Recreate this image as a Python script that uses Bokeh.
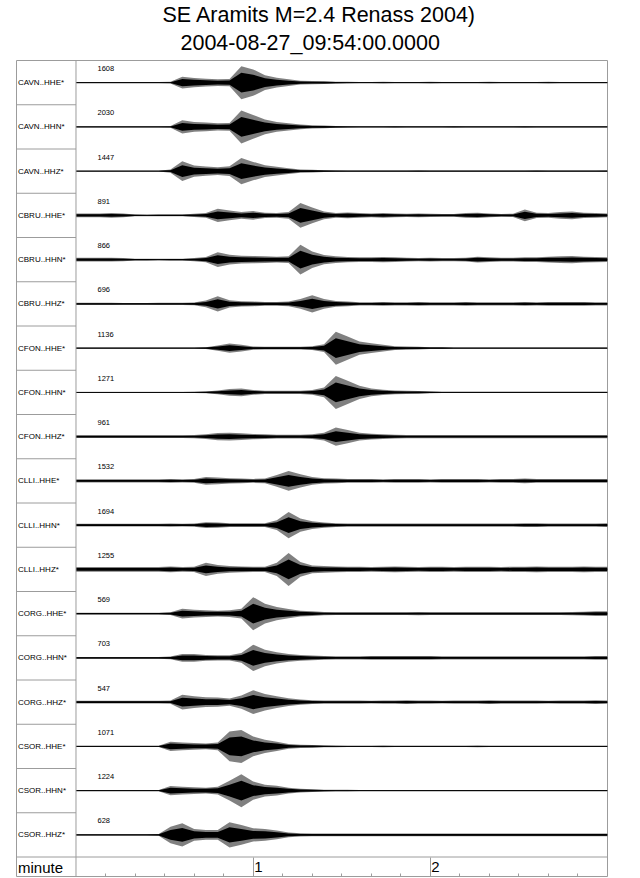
"""
Record section of the SE Aramits M=2.4 event (Renass, 2004-08-27 09:54)
"""
import numpy as np
from bokeh.plotting import figure
from bokeh.models import Range1d, FixedTicker, Span, Title
from bokeh.core.properties import value
from bokeh.embed import file_html
from bokeh.resources import INLINE

TITLE = "SE Aramits M=2.4 Renass 2004)"
SUBTITLE = "2004-08-27_09:54:00.0000"
AXIS_NAME = "minute"

STATIONS = ["CAVN..HHE*", "CAVN..HHN*", "CAVN..HHZ*",
            "CBRU..HHE*", "CBRU..HHN*", "CBRU..HHZ*",
            "CFON..HHE*", "CFON..HHN*", "CFON..HHZ*",
            "CLLI..HHE*", "CLLI..HHN*", "CLLI..HHZ*",
            "CORG..HHE*", "CORG..HHN*", "CORG..HHZ*",
            "CSOR..HHE*", "CSOR..HHN*", "CSOR..HHZ*"]
PEAKS = [1608, 2030, 1447, 891, 866, 696, 1136, 1271, 961,
         1532, 1694, 1255, 569, 703, 547, 1071, 1224, 628]

# envelope sample times (s after 09:54:00), one every 4 s
T = list(range(0, 181, 4))

ENV_CAVN_HHE = [4, 4, 4, 4, 4, 4, 4, 4, 5, 36, 28, 24, 20, 22, 100, 80,
                44, 30, 20, 12, 10, 8, 6, 5, 4, 4, 5, 4, 4, 4, 5, 4,
                4, 4, 4, 5, 4, 4, 4, 4, 5, 4, 4, 4, 4, 4]
ENV_CAVN_HHN = [4, 4, 4, 4, 4, 4, 4, 4, 5, 40, 30, 26, 22, 24, 100, 72,
                44, 30, 22, 14, 10, 8, 6, 5, 4, 4, 4, 5, 4, 4, 4, 4,
                5, 4, 4, 4, 4, 4, 5, 4, 4, 4, 4, 4, 4, 4]
ENV_CAVN_HHZ = [3, 3, 3, 3, 3, 3, 3, 3, 10, 60, 34, 28, 24, 30, 80, 56,
                36, 26, 18, 10, 8, 6, 5, 4, 4, 4, 4, 4, 4, 5, 4, 4,
                4, 4, 4, 4, 4, 4, 4, 5, 4, 4, 4, 4, 4, 5]
ENV_CBRU_HHE = [12, 12, 12, 14, 12, 6, 5, 6, 6, 6, 10, 14, 40, 30, 20, 26,
                16, 14, 20, 75, 48, 24, 14, 18, 14, 12, 14, 12, 10, 12, 10, 8,
                8, 14, 16, 12, 8, 10, 36, 16, 14, 20, 24, 16, 14, 12]
ENV_CBRU_HHN = [12, 12, 12, 12, 10, 6, 6, 5, 6, 6, 10, 16, 44, 30, 24, 22,
                20, 18, 20, 90, 50, 28, 20, 16, 14, 14, 16, 14, 12, 10, 12, 10,
                10, 12, 18, 14, 12, 12, 14, 14, 18, 20, 22, 18, 16, 14]
ENV_CBRU_HHZ = [7, 7, 7, 7, 6, 6, 6, 7, 7, 7, 8, 20, 46, 22, 16, 14,
                12, 12, 14, 30, 52, 30, 18, 14, 10, 10, 12, 10, 10, 12, 10, 10,
                10, 12, 10, 10, 10, 10, 12, 10, 12, 12, 12, 12, 10, 10]
ENV_CFON_HHE = [4, 4, 4, 4, 4, 4, 4, 4, 4, 4, 4, 6, 16, 28, 20, 10,
                8, 8, 8, 8, 12, 24, 100, 70, 40, 30, 20, 12, 10, 8, 6, 6,
                4, 4, 4, 4, 4, 4, 4, 4, 4, 4, 4, 4, 4, 4]
ENV_CFON_HHN = [3, 3, 3, 3, 3, 3, 3, 3, 3, 3, 4, 6, 12, 20, 24, 14,
                10, 10, 10, 10, 14, 30, 100, 70, 40, 24, 16, 12, 10, 8, 6, 4,
                4, 4, 4, 4, 4, 4, 4, 4, 4, 4, 4, 4, 4, 4]
ENV_CFON_HHZ = [8, 8, 8, 8, 8, 8, 8, 8, 8, 8, 10, 14, 22, 24, 20, 16,
                14, 12, 12, 12, 14, 24, 55, 40, 24, 18, 14, 12, 10, 10, 10, 10,
                10, 10, 10, 10, 10, 10, 10, 10, 10, 10, 10, 10, 10, 10]
ENV_CLLI_HHE = [10, 10, 10, 10, 10, 10, 10, 10, 12, 10, 12, 24, 20, 16, 14, 12,
                14, 36, 60, 40, 24, 16, 14, 12, 12, 12, 10, 12, 12, 12, 10, 12,
                12, 12, 12, 10, 12, 12, 14, 12, 12, 12, 12, 12, 12, 12]
ENV_CLLI_HHN = [8, 8, 8, 8, 8, 8, 8, 8, 10, 8, 10, 18, 16, 12, 12, 12,
                12, 30, 80, 40, 24, 16, 12, 10, 10, 10, 10, 10, 10, 10, 10, 10,
                10, 10, 10, 10, 10, 10, 12, 12, 10, 10, 10, 10, 10, 12]
ENV_CLLI_HHZ = [14, 14, 14, 14, 14, 14, 14, 14, 18, 14, 16, 40, 26, 20, 18, 16,
                16, 40, 100, 45, 24, 20, 18, 16, 16, 14, 16, 18, 16, 14, 16, 16,
                14, 16, 16, 16, 14, 16, 16, 18, 16, 16, 16, 18, 16, 16]
ENV_CORG_HHE = [6, 6, 6, 6, 6, 6, 6, 6, 8, 30, 24, 20, 18, 20, 30, 100,
                60, 40, 28, 18, 14, 10, 8, 8, 8, 8, 8, 8, 8, 10, 8, 8,
                8, 8, 8, 8, 8, 8, 8, 8, 8, 8, 10, 12, 14, 14]
ENV_CORG_HHN = [6, 6, 6, 6, 6, 6, 6, 6, 8, 24, 24, 18, 16, 16, 30, 80,
                50, 34, 24, 18, 14, 12, 10, 10, 10, 12, 12, 12, 12, 12, 12, 10,
                10, 10, 10, 10, 10, 10, 10, 10, 10, 10, 10, 10, 12, 12]
ENV_CORG_HHZ = [8, 8, 8, 8, 8, 8, 8, 8, 10, 44, 36, 30, 28, 22, 40, 72,
                50, 36, 24, 16, 12, 10, 10, 10, 10, 8, 10, 10, 12, 10, 10, 8,
                10, 10, 10, 12, 10, 10, 10, 10, 8, 10, 10, 10, 12, 10]
ENV_CSOR_HHE = [4, 4, 4, 4, 4, 4, 4, 4, 28, 24, 20, 18, 24, 90, 100, 60,
                40, 28, 14, 10, 8, 6, 5, 4, 4, 4, 5, 4, 4, 4, 4, 4,
                4, 4, 5, 4, 4, 4, 4, 4, 4, 4, 4, 4, 4, 4]
ENV_CSOR_HHN = [4, 4, 4, 4, 4, 4, 4, 4, 28, 24, 20, 18, 24, 60, 100, 55,
                36, 30, 18, 12, 8, 6, 5, 5, 4, 4, 4, 4, 4, 4, 4, 4,
                4, 4, 4, 4, 4, 4, 4, 4, 4, 4, 4, 4, 4, 4]
ENV_CSOR_HHZ = [5, 5, 5, 5, 5, 5, 5, 6, 50, 70, 36, 30, 30, 76, 60, 40,
                36, 26, 14, 10, 8, 8, 8, 8, 8, 8, 8, 9, 8, 8, 8, 8,
                8, 8, 8, 8, 8, 9, 8, 8, 8, 8, 8, 8, 8, 9]

ENVELOPES = [ENV_CAVN_HHE, ENV_CAVN_HHN, ENV_CAVN_HHZ,
             ENV_CBRU_HHE, ENV_CBRU_HHN, ENV_CBRU_HHZ,
             ENV_CFON_HHE, ENV_CFON_HHN, ENV_CFON_HHZ,
             ENV_CLLI_HHE, ENV_CLLI_HHN, ENV_CLLI_HHZ,
             ENV_CORG_HHE, ENV_CORG_HHN, ENV_CORG_HHZ,
             ENV_CSOR_HHE, ENV_CSOR_HHN, ENV_CSOR_HHZ]

MAJOR_TICKS = [60, 120]
MAJOR_LABELS = ["1", "2"]
MINOR_TICKS = [10, 20, 30, 40, 50, 70, 80, 90, 100, 110,
               130, 140, 150, 160, 170]

# layout (pixels)
PX_PER_S = 2.953
LABEL_PX = 59.5
ROW_PX = 44.25
AXIS_PX = 20.5
AMP_PX = 16.5
FRAME_GREY = "#9c9c9c"
FONT = "Liberation Sans"

n = len(STATIONS)
x_min = -LABEL_PX / PX_PER_S
ax_h = AXIS_PX / ROW_PX
amp_unit = AMP_PX / ROW_PX / 100.0
centers = [n - 0.5 - i for i in range(n)]

p = figure(frame_width=591, frame_height=int(round(n * ROW_PX + AXIS_PX)),
           x_range=Range1d(x_min, 180), y_range=Range1d(-ax_h, n),
           y_axis_type=None, title=None, toolbar_location=None,
           output_backend="svg", min_border_left=16, min_border_right=8,
           min_border_top=0, min_border_bottom=0)
p.grid.visible = False
p.outline_line_color = FRAME_GREY
p.background_fill_color = "white"

p.add_layout(Title(text=SUBTITLE, align="left", offset=164, standoff=8,
                   vertical_align="top",
                   text_font=FONT, text_font_size="21.5px",
                   text_font_style="normal", text_color="black"), "above")
p.add_layout(Title(text=TITLE, align="left", offset=146, standoff=0,
                   text_font=FONT, text_font_size="21.5px",
                   text_font_style="normal", text_color="black"), "above")

# time axis: bottom edge of the frame, ticks pointing up into the minute row
ax = p.xaxis[0]
ax.ticker = FixedTicker(ticks=MAJOR_TICKS, minor_ticks=MINOR_TICKS)
ax.axis_line_color = FRAME_GREY
ax.major_tick_line_color = FRAME_GREY
ax.minor_tick_line_color = FRAME_GREY
ax.major_tick_in = int(AXIS_PX)
ax.major_tick_out = 0
ax.minor_tick_in = 4
ax.minor_tick_out = 0
ax.major_label_text_font_size = "1px"
ax.major_label_text_alpha = 0
ax.major_label_standoff = 0

# grid of the label column and the minute row
p.add_layout(Span(location=0, dimension="height", line_color=FRAME_GREY,
                  line_width=1))
p.add_layout(Span(location=0, dimension="width", line_color=FRAME_GREY,
                  line_width=1))
bounds = list(range(1, n))
p.segment(x0=[x_min] * len(bounds), y0=bounds, x1=[0] * len(bounds),
          y1=bounds, line_color=FRAME_GREY, line_width=1)

for base, env in zip(centers, ENVELOPES):
    a = np.array(env) * amp_unit
    p.varea(x=T, y1=base - a, y2=base + a, fill_color="#6a6a6a",
            fill_alpha=0.85)
    p.varea(x=T, y1=base - 0.6 * a, y2=base + 0.6 * a, fill_color="black")
    p.line(x=[0, 180], y=[base, base], line_color="black", line_width=0.8)

p.text(x=[x_min + 1.5 / PX_PER_S] * n, y=centers, text=STATIONS,
       text_font=value(FONT), text_font_size="8px", text_color="black",
       text_align="left", text_baseline="middle")
p.text(x=[21.5 / PX_PER_S] * n, y=[c + 14.0 / ROW_PX for c in centers],
       text=[str(v) for v in PEAKS], text_font=value(FONT),
       text_font_size="7.5px", text_color="black", text_align="left",
       text_baseline="middle")
p.text(x=[x_min + 1.5 / PX_PER_S], y=[-ax_h / 2], text=[AXIS_NAME],
       text_font=value(FONT), text_font_size="15px", text_color="black",
       text_align="left", text_baseline="middle")
p.text(x=MAJOR_TICKS, y=[-ax_h / 2] * len(MAJOR_TICKS), text=MAJOR_LABELS,
       x_offset=1, text_font=value(FONT), text_font_size="15px",
       text_color="black", text_align="left", text_baseline="middle")

open("out.html", "w").write(file_html(p, INLINE))
